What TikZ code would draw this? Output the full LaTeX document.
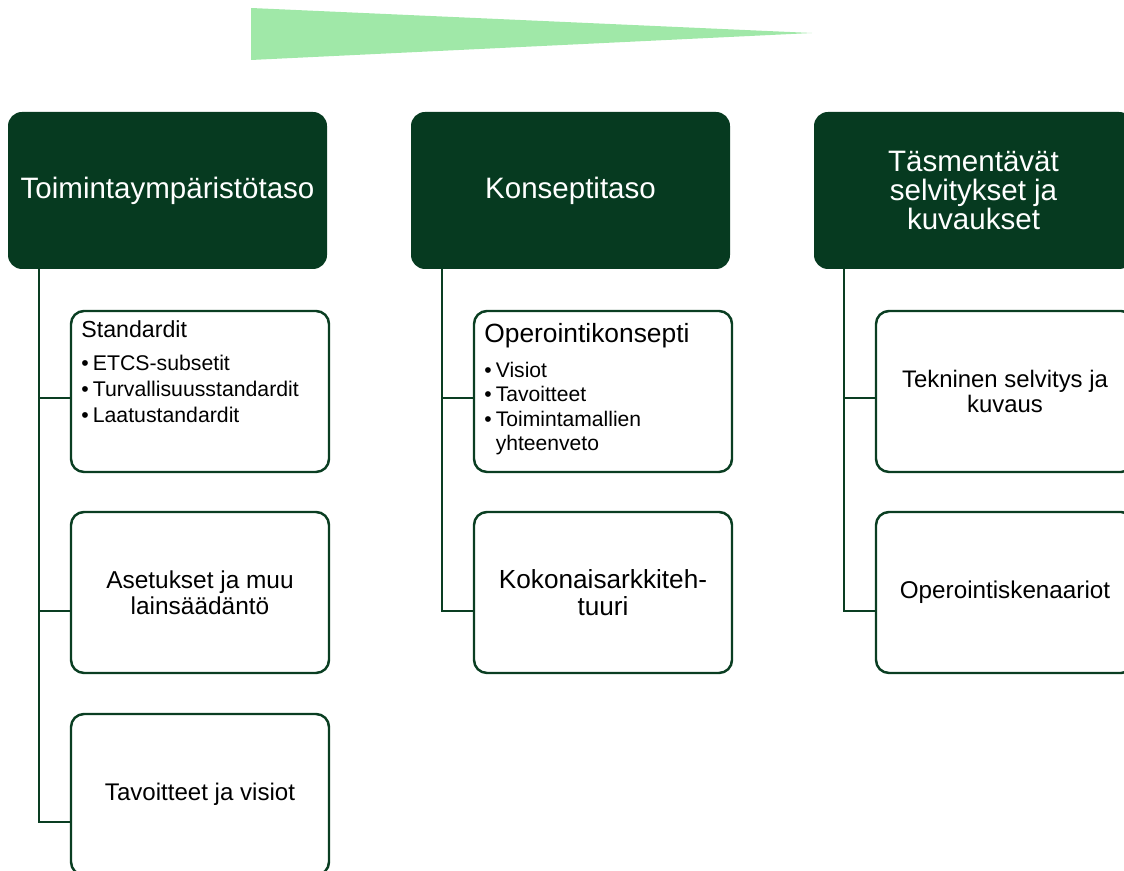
\documentclass[tikz,border=0pt]{standalone}
\usepackage{fontspec}
\setmainfont{Liberation Sans}
\usepackage{xcolor}
\definecolor{LEVELdeep}{HTML}{063A20}
\definecolor{LEVELline}{HTML}{0A3E22}
\definecolor{LEVELwedge}{HTML}{A0E8A8}
\usetikzlibrary{calc, positioning}
\newcommand{\lvlitem}{\makebox[0.23cm][l]{\textbullet}}

\begin{document}
\begin{tikzpicture}[
  levelhead/.style={rounded corners=0.28cm, fill=LEVELdeep, text=white, align=center,
    minimum width=6.38cm, minimum height=3.14cm, inner sep=0pt, outer sep=0pt,
    font=\fontsize{16.8}{16}\selectfont},
  subbox/.style={draw=LEVELline, line width=1.4pt, rounded corners=0.26cm, fill=white,
    minimum width=5.16cm, minimum height=3.22cm, inner sep=0pt, outer sep=0pt,
    align=center},
  itemtext/.style={anchor=north west, inner sep=0pt, align=left, text width=4.8cm,
    execute at begin node=\setlength{\parindent}{0pt}},
  link/.style={draw=LEVELline, line width=1.5pt}
]
\useasboundingbox (0,0) rectangle (22.48,-17.42);
\clip (0,0) rectangle (22.48,-17.42);
\fill[LEVELwedge] (5.02,-0.16) -- (5.02,-1.20) -- (16.24,-0.66) -- cycle;

\node (env) [levelhead] at (3.35,-3.81) {Toimintaympäristötaso};
\node (con) [levelhead] at (11.41,-3.81) {Konseptitaso};
\node (det) [levelhead, font=\fontsize{16.8}{16.6}\selectfont] at (19.47,-3.81)
  {Täsmentävät\\selvitykset ja\\kuvaukset};

\node (std) [subbox, below right=0.84cm and 1.26cm of env.south west] {};
\node (law) [subbox, below=0.8cm of std, font=\fontsize{13.9}{14.6}\selectfont]
  {Asetukset ja muu\\lainsäädäntö};
\node (aim) [subbox, below=0.82cm of law, font=\fontsize{13.7}{15}\selectfont]
  {Tavoitteet ja visiot};
\node (ops) [subbox, below right=0.84cm and 1.26cm of con.south west] {};
\node (arch) [subbox, below=0.8cm of ops, font=\fontsize{14.9}{15}\selectfont]
  {Kokonaisarkkiteh-\\tuuri};
\node (tech) [subbox, below right=0.84cm and 1.24cm of det.south west,
  font=\fontsize{13.6}{14.4}\selectfont] {Tekninen selvitys ja\\kuvaus};
\node (scen) [subbox, below=0.8cm of tech, font=\fontsize{13.8}{15}\selectfont]
  {Operointiskenaariot};

\node (stdlist) [itemtext] at ([xshift=0.2cm, yshift=-0.18cm]std.north west)
  {\fontsize{13.2}{15}\selectfont Standardit\par\vspace{4.4pt}
   \fontsize{12.1}{14.7}\selectfont
   \lvlitem ETCS-subsetit\par
   \lvlitem Turvallisuusstandardit\par
   \lvlitem Laatustandardit\par};
\node (opslist) [itemtext] at ([xshift=0.2cm, yshift=-0.24cm]ops.north west)
  {\fontsize{15}{17}\selectfont Operointikonsepti\par\vspace{5.9pt}
   \fontsize{12}{13.9}\selectfont
   \lvlitem Visiot\par
   \lvlitem Tavoitteet\par
   \lvlitem Toimintamallien\par
   \hspace*{0.23cm}yhteenveto\par};

\draw[link] ([xshift=0.62cm]env.south west) |- ([yshift=-0.13cm]std.west);
\draw[link] ([xshift=0.62cm]env.south west) |- ([yshift=-0.37cm]law.west);
\draw[link] ([xshift=0.62cm]env.south west) |- ([yshift=-0.55cm]aim.west);
\draw[link] ([xshift=0.62cm]con.south west) |- ([yshift=-0.13cm]ops.west);
\draw[link] ([xshift=0.62cm]con.south west) |- ([yshift=-0.37cm]arch.west);
\draw[link] ([xshift=0.6cm]det.south west) |- ([yshift=-0.13cm]tech.west);
\draw[link] ([xshift=0.6cm]det.south west) |- ([yshift=-0.37cm]scen.west);
\end{tikzpicture}
\end{document}
